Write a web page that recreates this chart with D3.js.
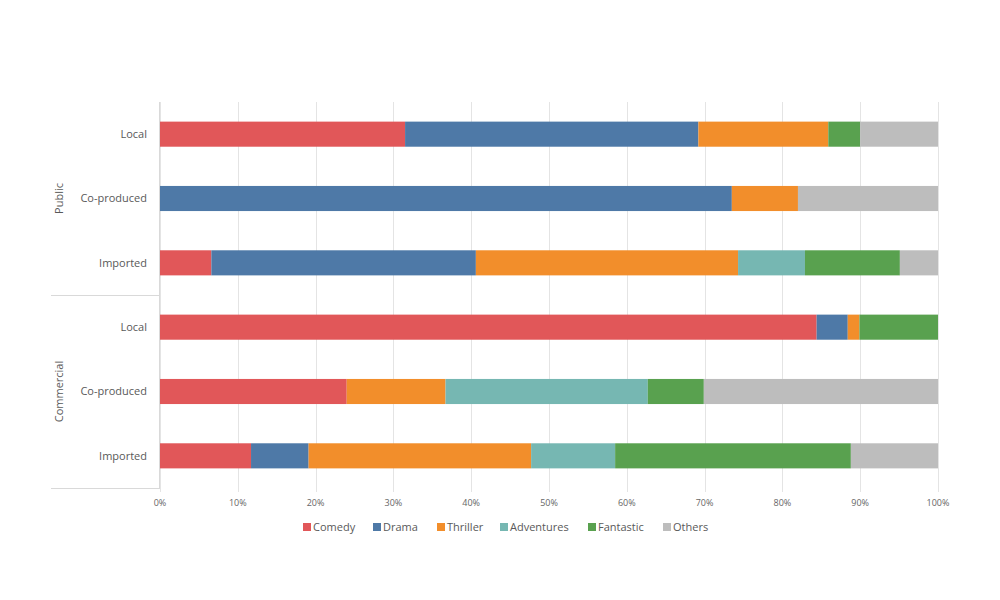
<!DOCTYPE html>
<html>
<head>
<meta charset="utf-8">
<script src="https://cdn.jsdelivr.net/npm/d3@7"></script>
<style>
  html, body { margin: 0; padding: 0; background: #fff; }
  svg { display: block; font-family: "Open Sans", sans-serif; }
</style>
</head>
<body>
<svg id="chart" width="1000" height="600"></svg>
<script>
// ---- Data (percent of films by genre) ----
const groups = ["Public", "Commercial"];
const origins = ["Local", "Co-produced", "Imported"];
const genres = ["Comedy", "Drama", "Thriller", "Adventures", "Fantastic", "Others"];
const genreColors = ["#E15759", "#4E79A7", "#F28E2B", "#76B7B2", "#59A14F", "#BDBDBD"];

const comedy     = [31.5,  0.0,  6.6, 84.4, 24.0, 11.7];
const drama      = [37.7, 73.5, 34.0,  4.0,  0.0,  7.4];
const thriller   = [16.7,  8.5, 33.7,  1.5, 12.7, 28.6];
const adventures = [ 0.0,  0.0,  8.6,  0.0, 26.0, 10.8];
const fantastic  = [ 4.1,  0.0, 12.2, 10.1,  7.2, 30.3];
const others     = [10.0, 18.0,  4.9,  0.0, 30.1, 11.2];

const xTicks = [0, 10, 20, 30, 40, 50, 60, 70, 80, 90, 100];

(function () {
// ---- Build rows ----
const rows = [];
groups.forEach((g, gi) => origins.forEach((o, oi) => {
  const i = gi * origins.length + oi;
  rows.push({
    key: g + "|" + o, group: g, origin: o,
    Comedy: comedy[i], Drama: drama[i], Thriller: thriller[i],
    Adventures: adventures[i], Fantastic: fantastic[i], Others: others[i]
  });
}));

const svg = d3.select("#chart");
const pLeft = 160, pRight = 938, pTop = 102, pBottom = 488;

const x = d3.scaleLinear().domain([0, 100]).range([pLeft, pRight]);
const y = d3.scaleBand().domain(rows.map(r => r.key)).range([pTop, pBottom]).paddingInner(0.61).paddingOuter(0.305);
const color = d3.scaleOrdinal().domain(genres).range(genreColors);

// gridlines
svg.append("g").selectAll("line").data(xTicks).join("line")
  .attr("x1", d => Math.round(x(d)) + 0.5).attr("x2", d => Math.round(x(d)) + 0.5)
  .attr("y1", pTop).attr("y2", pBottom + 4)
  .attr("stroke", "#e4e4e4").attr("stroke-width", 1);

// tick labels
svg.append("g").selectAll("text").data(xTicks).join("text")
  .attr("x", d => x(d)).attr("y", 506)
  .attr("text-anchor", "middle")
  .attr("font-size", 9).attr("fill", "#666")
  .text(d => d + "%");

// bars
const series = d3.stack().keys(genres)(rows);
svg.append("g").selectAll("g").data(series).join("g")
  .attr("fill", d => color(d.key))
  .selectAll("rect").data(d => d).join("rect")
  .attr("x", d => x(d[0]))
  .attr("width", d => Math.max(0, x(d[1]) - x(d[0])))
  .attr("y", d => y(d.data.key))
  .attr("height", y.bandwidth());

// left axis and group separators
const axisColor = "#d9d9d9";
svg.append("line").attr("x1", pLeft - 0.5).attr("x2", pLeft - 0.5).attr("y1", pTop).attr("y2", pBottom)
  .attr("stroke", axisColor);
const step = y.step();
const sepY = [pTop + step * 3, pBottom];
svg.append("g").selectAll("line").data(sepY).join("line")
  .attr("x1", 51).attr("x2", pLeft).attr("y1", d => Math.round(d) + 0.5).attr("y2", d => Math.round(d) + 0.5)
  .attr("stroke", axisColor);

// category labels
svg.append("g").selectAll("text").data(rows).join("text")
  .attr("x", 147).attr("y", d => y(d.key) + y.bandwidth() / 2)
  .attr("dy", "0.35em").attr("text-anchor", "end")
  .attr("font-size", 11).attr("fill", "#595959")
  .text(d => d.origin);

// group labels
groups.forEach((g, gi) => {
  const cy = pTop + step * 3 * gi + step * 1.5;
  svg.append("text")
    .attr("transform", `translate(63,${cy}) rotate(-90)`)
    .attr("text-anchor", "middle")
    .attr("font-size", 11).attr("fill", "#595959")
    .text(g);
});

// legend
const legendX = [303, 373, 437, 500, 588, 663];
const lg = svg.append("g").selectAll("g").data(genres).join("g")
  .attr("transform", (d, i) => `translate(${legendX[i]},527)`);
lg.append("rect").attr("x", 0).attr("y", -4).attr("width", 8).attr("height", 8).attr("fill", d => color(d));
lg.append("text").attr("x", 10).attr("y", 0).attr("dy", "0.35em")
  .attr("font-size", 11).attr("fill", "#595959").text(d => d);
})();
</script>
</body>
</html>
